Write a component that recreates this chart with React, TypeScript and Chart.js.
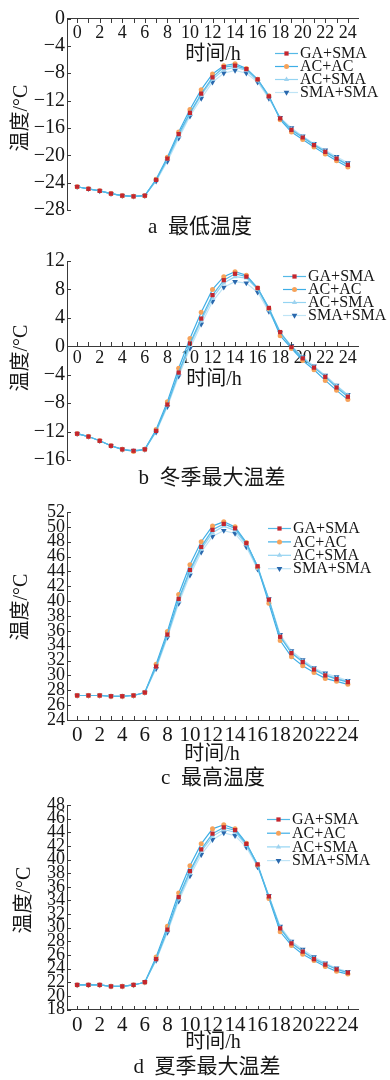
import React, { useEffect, useRef } from 'react';
import { Chart, registerables } from 'chart.js';

Chart.register(...registerables);

// ---- data -----------------------------------------------------------------
const hours = [0, 1, 2, 3, 4, 5, 6, 7, 8, 9, 10, 11, 12, 13, 14, 15, 16, 17, 18, 19, 20, 21, 22, 23, 24];
const seriesNames = ['GA+SMA', 'AC+AC', 'AC+SMA', 'SMA+SMA'];

// a  最低温度
const minTempGA = [-24.6, -24.9, -25.2, -25.6, -25.9, -26.0, -25.9, -23.6, -20.5, -16.9, -13.8, -11.0, -8.6, -7.1, -6.9, -7.4, -8.9, -11.4, -14.6, -16.3, -17.4, -18.5, -19.5, -20.5, -21.4];
const minTempAC = [-24.6, -24.9, -25.2, -25.6, -25.9, -26.0, -25.9, -23.5, -20.3, -16.6, -13.3, -10.4, -8.1, -6.9, -6.6, -7.3, -8.9, -11.3, -14.8, -16.6, -17.7, -18.8, -19.8, -20.8, -21.7];
const minTempACSMA = [-24.6, -24.9, -25.2, -25.6, -25.9, -26.0, -25.9, -23.7, -20.6, -17.2, -14.0, -11.2, -8.9, -7.5, -7.1, -7.6, -9.1, -11.5, -14.6, -16.2, -17.3, -18.4, -19.4, -20.4, -21.3];
const minTempSMA = [-24.6, -24.9, -25.2, -25.6, -25.9, -26.0, -25.9, -23.8, -20.9, -17.5, -14.3, -11.7, -9.3, -8.0, -7.6, -8.0, -9.3, -11.7, -14.5, -16.0, -17.2, -18.3, -19.25, -20.2, -21.1];
const minTempTicks = [0, -4, -8, -12, -16, -20, -24, -28];

// b  冬季最大温差
const winterGA = [-12.3, -12.7, -13.3, -14.0, -14.5, -14.7, -14.5, -11.9, -8.2, -3.7, 0.4, 3.9, 7.2, 9.3, 10.2, 9.8, 8.2, 5.4, 2.0, -0.1, -1.7, -3.0, -4.3, -5.8, -7.1];
const winterAC = [-12.3, -12.7, -13.3, -14.0, -14.5, -14.8, -14.5, -11.7, -7.8, -3.1, 1.1, 4.8, 8.0, 9.8, 10.5, 10.0, 8.2, 5.3, 1.5, -0.3, -2.0, -3.3, -4.8, -6.2, -7.5];
const winterACSMA = [-12.3, -12.7, -13.3, -14.0, -14.5, -14.7, -14.5, -11.9, -8.3, -3.9, 0.1, 3.6, 6.8, 8.9, 9.8, 9.6, 8.0, 5.1, 1.8, 0.0, -1.6, -2.9, -4.2, -5.6, -6.9];
const winterSMA = [-12.3, -12.7, -13.3, -14.0, -14.5, -14.7, -14.5, -12.1, -8.5, -4.2, -0.3, 3.1, 6.3, 8.3, 9.1, 8.9, 7.6, 4.9, 1.9, 0.1, -1.5, -2.8, -4.1, -5.5, -6.8];
const winterTicks = [12, 8, 4, 0, -4, -8, -12, -16];

// c  最高温度
const maxTempGA = [27.3, 27.3, 27.3, 27.2, 27.2, 27.3, 27.7, 31.2, 35.5, 40.3, 44.2, 47.3, 49.6, 50.4, 49.8, 47.8, 44.7, 40.2, 35.2, 33.0, 31.8, 30.8, 30.0, 29.5, 29.1];
const maxTempAC = [27.3, 27.3, 27.3, 27.2, 27.2, 27.3, 27.7, 31.5, 35.9, 40.9, 44.9, 48.0, 50.1, 50.7, 50.0, 47.9, 44.6, 39.7, 34.7, 32.5, 31.3, 30.4, 29.6, 29.2, 28.8];
const maxTempACSMA = [27.3, 27.3, 27.3, 27.2, 27.2, 27.3, 27.7, 31.1, 35.3, 40.0, 43.9, 47.0, 49.2, 50.1, 49.5, 47.6, 44.4, 40.2, 35.3, 33.1, 31.9, 30.9, 30.1, 29.6, 29.2];
const maxTempSMA = [27.3, 27.3, 27.3, 27.2, 27.2, 27.3, 27.7, 30.9, 35.1, 39.7, 43.5, 46.6, 48.7, 49.5, 49.1, 47.3, 44.3, 40.3, 35.5, 33.3, 32.1, 31.0, 30.3, 29.8, 29.3];
const maxTempTicks = [52, 50, 48, 46, 44, 42, 40, 38, 36, 34, 32, 30, 28, 26, 24];

// d  夏季最大温差
const summerGA = [21.6, 21.6, 21.6, 21.4, 21.4, 21.6, 22.0, 25.4, 29.7, 34.5, 38.3, 41.5, 43.8, 44.7, 44.3, 42.3, 39.3, 34.6, 29.9, 27.7, 26.5, 25.4, 24.6, 23.9, 23.4];
const summerAC = [21.6, 21.6, 21.6, 21.4, 21.4, 21.6, 22.0, 25.7, 30.2, 35.1, 39.1, 42.3, 44.5, 45.1, 44.5, 42.4, 39.2, 34.3, 29.4, 27.4, 26.1, 25.2, 24.3, 23.6, 23.2];
const summerACSMA = [21.6, 21.6, 21.6, 21.4, 21.4, 21.6, 22.0, 25.3, 29.5, 34.2, 38.0, 41.2, 43.4, 44.4, 44.0, 42.1, 39.1, 34.6, 30.0, 27.8, 26.6, 25.5, 24.7, 23.9, 23.4];
const summerSMA = [21.6, 21.6, 21.6, 21.4, 21.4, 21.6, 22.0, 25.2, 29.3, 33.9, 37.6, 40.7, 42.9, 43.9, 43.5, 41.8, 38.9, 34.7, 30.2, 28.0, 26.8, 25.7, 24.8, 24.05, 23.55];
const summerTicks = [48, 46, 44, 42, 40, 38, 36, 34, 32, 30, 28, 26, 24, 22, 20, 18];

// ---- styles ---------------------------------------------------------------
const SERIF = "'Liberation Serif', 'Times New Roman', 'Noto Sans CJK SC', serif";
const INK = '#161616';
const AXIS = '#3a3a3a';

const seriesStyles = [
  { line: '#55b9e6', point: '#c4262e', pointStyle: 'rect', radius: 3.0, rotation: 0 },
  { line: '#3eaee6', point: '#f6a25a', pointStyle: 'circle', radius: 2.5, rotation: 0 },
  { line: '#94d4f2', point: '#9fd3ef', pointStyle: 'triangle', radius: 3.0, rotation: 0 },
  { line: '#bfe4f6', point: '#2a68ad', pointStyle: 'triangle', radius: 3.3, rotation: 180 },
];

// panel geometry inside its own canvas
const panels = [
  {
    key: 'a', top: 0, height: 240, areaTop: 18.5, areaBottom: 210,
    series: [minTempGA, minTempAC, minTempACSMA, minTempSMA],
    yMin: -28, yMax: 0, yTicks: minTempTicks, yFont: 20, xAxisValue: 0,
    xFont: 18, xGap: 3.7, tickDir: 1,
    xTitleX: 213, xTitleY: 55, yTitleX: 22, yTitleY: 118,
    caption: 'a  最低温度', captionX: 200, captionY: 227,
    legendX: 275, legendY: 53, legendGap: 13,
  },
  {
    key: 'b', top: 240, height: 250, areaTop: 21, areaBottom: 220,
    series: [winterGA, winterAC, winterACSMA, winterSMA],
    yMin: -16, yMax: 12, yTicks: winterTicks, yFont: 20, xAxisValue: 0,
    xFont: 18, xGap: 1.2, tickDir: -1,
    xTitleX: 214, xTitleY: 140, yTitleX: 22, yTitleY: 118,
    caption: 'b  冬季最大温差', captionX: 212, captionY: 238,
    legendX: 283, legendY: 36, legendGap: 13,
  },
  {
    key: 'c', top: 490, height: 300, areaTop: 22, areaBottom: 230,
    series: [maxTempGA, maxTempAC, maxTempACSMA, maxTempSMA],
    yMin: 24, yMax: 52, yTicks: maxTempTicks, yFont: 18, xAxisValue: 24,
    xFont: 21, xGap: 2.4, tickDir: -1,
    xTitleX: 212, xTitleY: 265, yTitleX: 22, yTitleY: 117,
    caption: 'c  最高温度', captionX: 213, captionY: 288,
    legendX: 268, legendY: 38, legendGap: 13.4,
  },
  {
    key: 'd', top: 790, height: 290, areaTop: 15, areaBottom: 219.5,
    series: [summerGA, summerAC, summerACSMA, summerSMA],
    yMin: 18, yMax: 48, yTicks: summerTicks, yFont: 18, xAxisValue: 18,
    xFont: 21, xGap: 3, tickDir: -1,
    xTitleX: 213, xTitleY: 253, yTitleX: 25, yTitleY: 110,
    caption: 'd  夏季最大温差', captionX: 207, captionY: 277,
    legendX: 267, legendY: 29, legendGap: 13.7,
  },
];

const fmtSigned = (v: number) => (v < 0 ? '\u2212' + Math.abs(v) : String(v));

function drawMarker(ctx: CanvasRenderingContext2D, style: any, x: number, y: number) {
  ctx.fillStyle = style.point;
  ctx.beginPath();
  const r = style.radius;
  if (style.pointStyle === 'rect') {
    const s = r * Math.SQRT1_2;
    ctx.rect(x - s, y - s, 2 * s, 2 * s);
  } else if (style.pointStyle === 'circle') {
    ctx.arc(x, y, r, 0, Math.PI * 2);
  } else {
    const dir = style.rotation === 180 ? -1 : 1;
    ctx.moveTo(x, y - dir * r);
    ctx.lineTo(x - r * 0.866, y + dir * r * 0.5);
    ctx.lineTo(x + r * 0.866, y + dir * r * 0.5);
    ctx.closePath();
  }
  ctx.fill();
}

// inward tick marks, axis titles, caption and legend
const decorPlugin = {
  id: 'decor',
  afterDraw(chart: any, _args: any, opts: any) {
    const { ctx, chartArea } = chart;
    const xs = chart.scales.x;
    const ys = chart.scales.y;
    ctx.save();
    ctx.strokeStyle = AXIS;
    ctx.lineWidth = 1;
    const axisY = Math.round(ys.getPixelForValue(opts.xAxisValue));
    ctx.beginPath();
    xs.ticks.forEach((t: any) => {
      const px = Math.round(xs.getPixelForValue(t.value)) + 0.5;
      ctx.moveTo(px, axisY);
      ctx.lineTo(px, axisY + opts.tickDir * 4);
    });
    ys.ticks.forEach((t: any) => {
      const py = Math.round(ys.getPixelForValue(t.value)) + 0.5;
      ctx.moveTo(chartArea.left, py);
      ctx.lineTo(chartArea.left + 4, py);
    });
    ctx.stroke();

    ctx.fillStyle = INK;
    ctx.textAlign = 'center';
    ctx.textBaseline = 'middle';
    ctx.font = `20px ${SERIF}`;
    ctx.fillText('时间/h', opts.xTitleX, opts.xTitleY);
    ctx.save();
    ctx.translate(opts.yTitleX, opts.yTitleY);
    ctx.rotate(-Math.PI / 2);
    ctx.fillText('温度/°C', 0, 0);
    ctx.restore();
    ctx.font = `21px ${SERIF}`;
    ctx.fillText(opts.caption, opts.captionX, opts.captionY);

    // legend
    ctx.font = `16px ${SERIF}`;
    ctx.textAlign = 'left';
    chart.data.datasets.forEach((ds: any, i: number) => {
      const st = seriesStyles[i];
      const y = opts.legendY + i * opts.legendGap;
      ctx.strokeStyle = ds.borderColor;
      ctx.lineWidth = 1.2;
      ctx.beginPath();
      ctx.moveTo(opts.legendX, y + 0.5);
      ctx.lineTo(opts.legendX + 23, y + 0.5);
      ctx.stroke();
      drawMarker(ctx, st, opts.legendX + 11.5, y + 0.5);
      ctx.fillStyle = INK;
      ctx.fillText(ds.label, opts.legendX + 25, y + 1);
    });
    ctx.restore();
  },
};

function Panel({ p }: { p: any }) {
  const ref = useRef<HTMLCanvasElement>(null);
  useEffect(() => {
    const canvas = ref.current;
    if (!canvas) return;
    const chart = new Chart(canvas, {
      type: 'line',
      data: {
        datasets: p.series.map((vals: number[], i: number) => {
          const st = seriesStyles[i];
          return {
            label: seriesNames[i],
            data: vals.map((v, k) => ({ x: hours[k], y: v })),
            borderColor: st.line,
            borderWidth: 1.2,
            backgroundColor: st.point,
            pointBackgroundColor: st.point,
            pointBorderColor: st.point,
            pointBorderWidth: 0,
            pointStyle: st.pointStyle,
            pointRadius: st.radius,
            pointRotation: st.rotation,
            tension: 0,
            fill: false,
          };
        }),
      },
      options: {
        responsive: false,
        animation: false,
        devicePixelRatio: 1,
        events: [],
        layout: { padding: { left: 0, right: 32, top: p.areaTop, bottom: p.height - p.areaBottom } },
        plugins: {
          legend: { display: false },
          tooltip: { enabled: false },
          decor: p,
        } as any,
        scales: {
          x: {
            type: 'linear',
            min: -0.9,
            max: 24.9,
            position: { y: p.xAxisValue },
            afterBuildTicks: (s: any) => { s.ticks = hours.map((h) => ({ value: h })); },
            afterFit: (s: any) => { s.height = 0; },
            // invisible tick marks only push the labels away from the axis line
            grid: { display: true, drawOnChartArea: false, drawTicks: true, tickLength: p.xGap, tickColor: 'rgba(0,0,0,0)' },
            border: { display: true, color: AXIS, width: 1 },
            ticks: {
              autoSkip: false,
              maxRotation: 0,
              minRotation: 0,
              padding: 0,
              color: INK,
              font: { family: SERIF, size: p.xFont },
              callback: (v: any) => (Number(v) % 2 === 0 ? String(v) : ''),
            },
          },
          y: {
            type: 'linear',
            min: p.yMin,
            max: p.yMax,
            afterBuildTicks: (s: any) => { s.ticks = p.yTicks.map((v: number) => ({ value: v })); },
            afterFit: (s: any) => { s.width = 67; },
            grid: { display: true, drawOnChartArea: false, drawTicks: false },
            border: { display: true, color: AXIS, width: 1 },
            ticks: {
              autoSkip: false,
              padding: 2,
              color: INK,
              font: { family: SERIF, size: p.yFont },
              callback: (v: any) => fmtSigned(Number(v)),
            },
          },
        },
      },
      plugins: [decorPlugin],
    } as any);
    return () => chart.destroy();
  }, [p]);
  return (
    <canvas
      ref={ref}
      width={390}
      height={p.height}
      style={{ position: 'absolute', left: 0, top: p.top, width: 390, height: p.height, display: 'block' }}
    />
  );
}

export default function App() {
  return (
    <div style={{ position: 'absolute', left: 0, top: 0, width: 390, height: 1080, background: '#fff', overflow: 'hidden' }}>
      {panels.map((p) => (
        <Panel key={p.key} p={p} />
      ))}
    </div>
  );
}
